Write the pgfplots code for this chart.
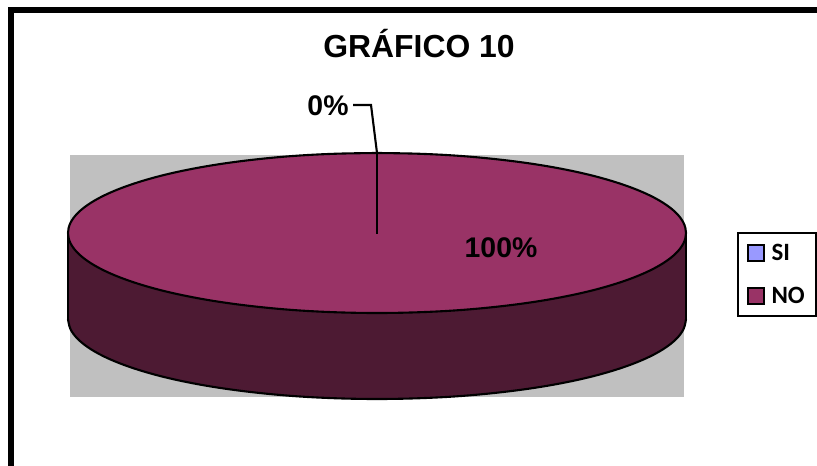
\documentclass[border=0pt]{standalone}
\usepackage{pgfplots}
\pgfplotsset{compat=1.18}
\usepackage{fontspec}
\setmainfont{Liberation Sans}
\newfontfamily\calibri{Carlito}
\definecolor{wallgray}{HTML}{C0C0C0}
\definecolor{sicol}{HTML}{9999FF}
\definecolor{nocol}{HTML}{993366}
\definecolor{sidecol}{HTML}{4D1A33}
\pgfplotsset{
  % pie geometry in image pixels
  ellipse/.style={smooth,tension=0.6,line width=2.1bp,draw=black},
  slab/.style={draw=none,forget plot}
}
\begin{document}
\begin{tikzpicture}
\begin{axis}[
  scale only axis,
  x=1bp,y=1bp,
  xmin=0,xmax=817,
  ymin=0,ymax=466,
  y dir=reverse,
  hide axis,
  clip=false,
  area legend,
  legend cell align=left,
  legend image code/.code={\draw[#1,line width=2bp] (0bp,-8bp) rectangle (16bp,8bp); \path (20.5bp,0bp);},
  legend style={
    at={(axis cs:737,232)},anchor=north west,
    draw=black,line width=2bp,
    inner xsep=9bp,inner ysep=9bp,
    row sep=21bp,
    font={\calibri\bfseries\fontsize{25}{25}\selectfont}
  }
]
% page background and outer frame
\addplot[slab,fill=white] coordinates {(0,0) (817,0) (817,466) (0,466)};
\addplot[forget plot,black,line width=5.5bp,/tikz/overlay] coordinates {(817,10) (11,10) (11,466)};
% grey wall behind the pie
\addplot[slab,fill=wallgray] coordinates {(70,155) (684,155) (684,397) (70,397)};
% side wall: lower rim, then the slab up to the top face
\addplot[ellipse,forget plot,fill=sidecol] coordinates {
  (686,319) (683.4,329.4) (675.5,339.7) (662.5,349.6) (644.6,359) (622.1,367.7) (595.5,375.6)
  (565.1,382.5) (531.5,388.3) (495.2,392.9) (457,396.3) (417.3,398.3) (377,399)
  (336.7,398.3) (297,396.3) (258.8,392.9) (222.5,388.3) (188.9,382.5) (158.5,375.6)
  (131.9,367.7) (109.4,359) (91.5,349.6) (78.5,339.7) (70.6,329.4) (68,319)
};
\addplot[slab,fill=sidecol] coordinates {(68,233) (686,233) (686,319) (68,319)};
\addplot[forget plot,black,line width=2.1bp] coordinates {(68,233) (68,319)};
\addplot[forget plot,black,line width=2.1bp] coordinates {(686,233) (686,319)};
% top face, NO = 100%
\addplot[ellipse,forget plot,fill=nocol] coordinates {
  (377,153) (417.3,153.7) (457,155.7) (495.2,159.1) (531.5,163.7) (565.1,169.5) (595.5,176.4)
  (622.1,184.3) (644.6,193) (662.5,202.4) (675.5,212.3) (683.4,222.6) (686,233)
  (683.4,243.4) (675.5,253.7) (662.5,263.6) (644.6,273) (622.1,281.7) (595.5,289.6)
  (565.1,296.5) (531.5,302.3) (495.2,306.9) (457,310.3) (417.3,312.3) (377,313)
  (336.7,312.3) (297,310.3) (258.8,306.9) (222.5,302.3) (188.9,296.5) (158.5,289.6)
  (131.9,281.7) (109.4,273) (91.5,263.6) (78.5,253.7) (70.6,243.4) (68,233)
  (70.6,222.6) (78.5,212.3) (91.5,202.4) (109.4,193) (131.9,184.3) (158.5,176.4)
  (188.9,169.5) (222.5,163.7) (258.8,159.1) (297,155.7) (336.7,153.7) (377,153)
};
% SI slice edge (0%) and its leader line
\addplot[forget plot,black,line width=2.1bp] coordinates {(377,234) (377,153)};
\addplot[forget plot,black,line width=2.1bp] coordinates {(353,105) (371,105) (377,153)};
% labels
\node[font=\bfseries\fontsize{32}{36}\selectfont,anchor=base] at (axis cs:419,58) {GRÁFICO 10};
\node[font=\bfseries\fontsize{28.5}{30}\selectfont,anchor=base] at (axis cs:328,116) {0\%};
\node[font=\bfseries\fontsize{28.5}{30}\selectfont,anchor=base] at (axis cs:501,258) {100\%};
% legend
\addlegendimage{fill=sicol}
\addlegendimage{fill=nocol}
\legend{SI,NO}
\end{axis}
\end{tikzpicture}
\end{document}
